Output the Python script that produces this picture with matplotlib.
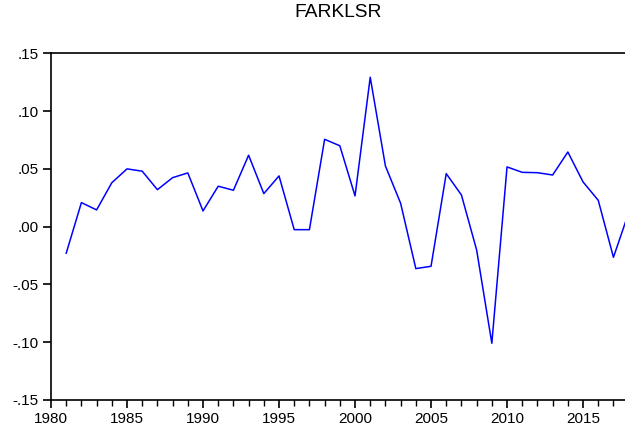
import matplotlib
matplotlib.use('Agg')
import matplotlib.pyplot as plt
from matplotlib.ticker import FuncFormatter, MultipleLocator

plt.rcParams['font.family'] = ['Liberation Sans', 'DejaVu Sans']

years = list(range(1981, 2019))
farklsr = [-0.023, 0.0208, 0.0145, 0.038, 0.050, 0.048, 0.032, 0.0424, 0.0465, 0.0136,
           0.035, 0.0315, 0.0618, 0.0286, 0.0439, -0.0026, -0.0026, 0.0756, 0.070, 0.0266,
           0.1293, 0.0525, 0.0202, -0.0363, -0.0343, 0.0459, 0.0274, -0.0202, -0.1009, 0.0517,
           0.047, 0.0467, 0.0447, 0.0646, 0.0387, 0.0228, -0.0265, 0.012]


def ylab(v, pos):
    s = '%.2f' % v
    if s.startswith('-0'):
        return '-' + s[2:]
    if s.startswith('0'):
        return s[1:]
    return s


fig = plt.figure(figsize=(6.25, 4.36), dpi=100)
ax = fig.add_axes([0.0816, 0.0826, 0.9184, 0.7951])
ax.plot(years, farklsr, color='#0000ff', lw=1.1)

ax.set_xlim(1980, 2017.76)
ax.set_ylim(-0.15, 0.15)
ax.xaxis.set_major_locator(MultipleLocator(5))
ax.xaxis.set_minor_locator(MultipleLocator(1))
ax.yaxis.set_major_locator(MultipleLocator(0.05))
ax.yaxis.set_major_formatter(FuncFormatter(ylab))
ax.tick_params(axis='both', which='major', length=6, width=1.2, labelsize=11, colors='black', pad=3)
ax.tick_params(axis='x', which='minor', length=4, width=1)
ax.spines['right'].set_visible(False)
for s in ['left', 'bottom', 'top']:
    ax.spines[s].set_linewidth(1.2)

fig.text(0.5408, 0.972, 'FARKLSR', fontsize=13.8, ha='center', va='center')

fig.savefig('out.png', dpi=100)
